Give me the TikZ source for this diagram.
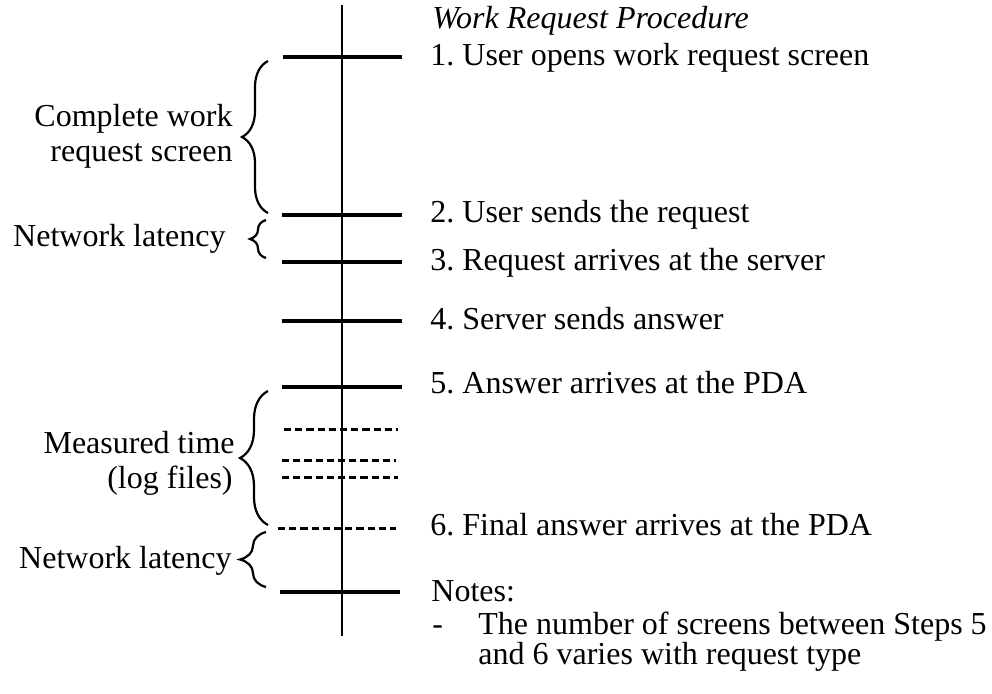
\documentclass[tikz,border=0pt]{standalone}
\usepackage{fontspec}
\setmainfont{Liberation Serif}
\usetikzlibrary{decorations.pathreplacing}

\begin{document}
\frenchspacing
\begin{tikzpicture}[
		x=0.5pt, y=-0.5pt,
		every node/.style={font=\fontsize{16}{18}\selectfont, inner sep=0pt},
		steptick/.style={line width=1.6pt},
		dashtick/.style={line width=1.5pt, dash pattern=on 3.6pt off 2pt},
		curly/.style={decorate, decoration={brace, amplitude=#1}, line width=1.1pt},
		stepnote/.style={anchor=base west},
		sidenote/.style={anchor=base east}
		]
		\useasboundingbox (0,0) rectangle (992,693);
		
		% time axis
		\coordinate (axtop) at (342,5);
		\coordinate (axbot) at (342,636);
		\draw[line width=1.4pt] (axtop) -- (axbot);
		
		% solid ticks
		\coordinate (t1a) at (283,57);  \coordinate (t1b) at (402,57);
		\coordinate (t2a) at (282,215); \coordinate (t2b) at (402,215);
		\coordinate (t3a) at (282,262); \coordinate (t3b) at (402,262);
		\coordinate (t4a) at (282,321); \coordinate (t4b) at (402,321);
		\coordinate (t5a) at (282,387); \coordinate (t5b) at (402,387);
		\coordinate (t7a) at (280,592); \coordinate (t7b) at (400,592);
		\draw[steptick] (t1a) -- (t1b);
		\draw[steptick] (t2a) -- (t2b);
		\draw[steptick] (t3a) -- (t3b);
		\draw[steptick] (t4a) -- (t4b);
		\draw[steptick] (t5a) -- (t5b);
		\draw[steptick] (t7a) -- (t7b);
		
		% dashed ticks (screens between 5 and 6)
		\coordinate (d1a) at (284,429); \coordinate (d1b) at (398,429);
		\coordinate (d2a) at (282,460); \coordinate (d2b) at (396,460);
		\coordinate (d3a) at (282,477); \coordinate (d3b) at (398,477);
		\coordinate (t6a) at (278,528); \coordinate (t6b) at (396,528);
		\draw[dashtick] (d1a) -- (d1b);
		\draw[dashtick] (d2a) -- (d2b);
		\draw[dashtick] (d3a) -- (d3b);
		\draw[dashtick] (t6a) -- (t6b);
		
		% step texts
		\node[stepnote] (title) at (432,28) {\itshape Work Request Procedure};
		\node[stepnote] (st1) at (430,65) {1. User opens work request screen};
		\node[stepnote] (st2) at (430,222) {2. User sends the request};
		\node[stepnote] (st3) at (430,270) {3. Request arrives at the server};
		\node[stepnote] (st4) at (430,329) {4. Server sends answer};
		\node[stepnote] (st5) at (430,393) {5. Answer arrives at the PDA};
		\node[stepnote] (st6) at (430,535) {6. Final answer arrives at the PDA};
		\node[stepnote] (notes) at (431,601) {Notes:};
		\node[stepnote] (dash) at (432,634) {-};
		\node[stepnote] (nt1) at (478,634) {The number of screens between Steps 5};
		\node[stepnote] (nt2) at (478,664) {and 6 varies with request type};
		
		% braces and their labels
		\coordinate (b1a) at (268,213); \coordinate (b1b) at (268,61);
		\coordinate (b2a) at (266,258); \coordinate (b2b) at (266,220);
		\coordinate (b3a) at (268,525); \coordinate (b3b) at (268,391);
		\coordinate (b4a) at (266,587); \coordinate (b4b) at (266,532);
		\draw[curly=13pt] (b1a) -- (b1b);
		\draw[curly=8pt] (b2a) -- (b2b);
		\draw[curly=14pt] (b3a) -- (b3b);
		\draw[curly=13pt] (b4a) -- (b4b);
		\node[sidenote] (cw1) at (233,126) {Complete work};
		\node[sidenote] (cw2) at (233,161) {request screen};
		\node[sidenote] (nl1) at (226,246) {Network latency};
		\node[sidenote] (mt1) at (235,453) {Measured time};
		\node[sidenote] (mt2) at (233,488) {(log files)};
		\node[sidenote] (nl2) at (232,568) {Network latency};
		
	\end{tikzpicture}
\end{document}
